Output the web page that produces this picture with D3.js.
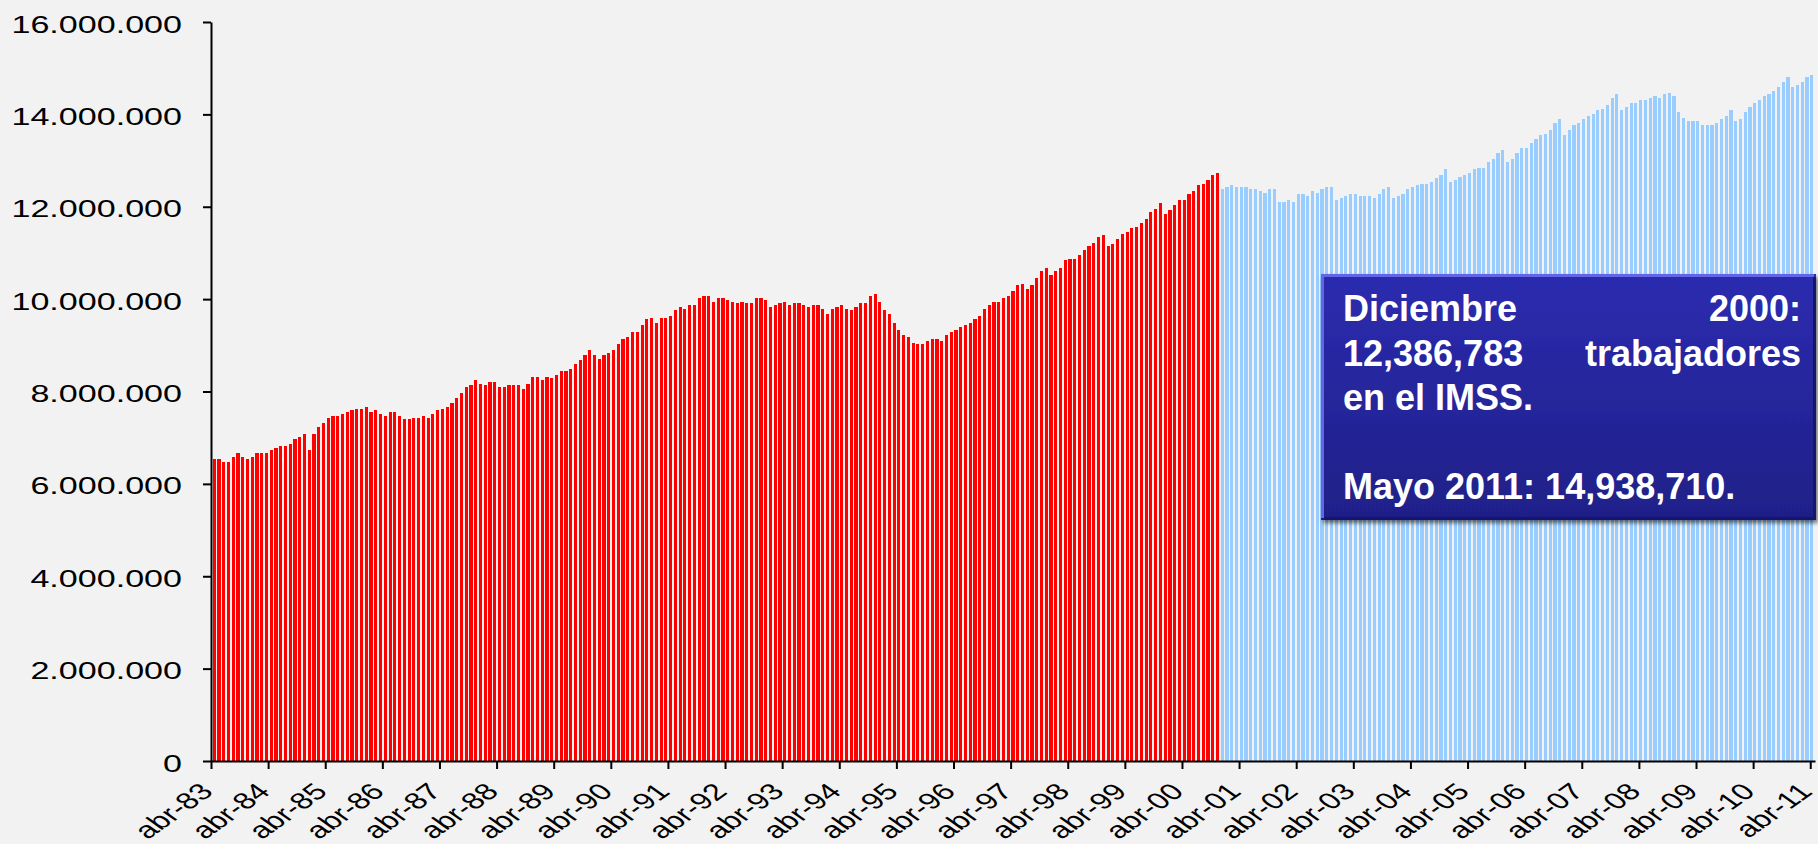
<!DOCTYPE html>
<html>
<head>
<meta charset="utf-8">
<script src="https://cdn.jsdelivr.net/npm/d3@7"></script>
<style>
    html, body { margin: 0; padding: 0; background: #f2f2f2; }
    svg { display: block; }
    text { font-family: "Liberation Sans", Arial, sans-serif; }
</style>
</head>
<body>
<svg id="chart" width="1818" height="844"></svg>
<script>
// Trabajadores asegurados en el IMSS, millones, mensual
// abr-83 .. nov-00
const redValues = [
    6.54, 6.54, 6.47, 6.47, 6.58, 6.67, 6.58, 6.54, 6.58, 6.67, 6.67, 6.67,
    6.73, 6.78, 6.82, 6.82, 6.86, 6.97, 7.01, 7.08, 6.73, 7.08, 7.23, 7.32,
    7.43, 7.47, 7.47, 7.51, 7.56, 7.60, 7.62, 7.62, 7.66, 7.56, 7.60, 7.51,
    7.47, 7.56, 7.56, 7.47, 7.40, 7.40, 7.43, 7.43, 7.47, 7.43, 7.51, 7.60,
    7.62, 7.66, 7.75, 7.86, 7.97, 8.10, 8.14, 8.25, 8.16, 8.14, 8.21, 8.21,
    8.10, 8.10, 8.14, 8.14, 8.14, 8.05, 8.16, 8.31, 8.31, 8.25, 8.31, 8.29,
    8.36, 8.44, 8.44, 8.49, 8.60, 8.68, 8.79, 8.90, 8.79, 8.70, 8.79, 8.83,
    8.90, 9.03, 9.14, 9.18, 9.29, 9.29, 9.44, 9.57, 9.59, 9.48, 9.59, 9.59,
    9.63, 9.76, 9.83, 9.79, 9.87, 9.87, 10.02, 10.07, 10.07, 9.94, 10.02, 10.02,
    9.98, 9.94, 9.92, 9.94, 9.92, 9.92, 10.02, 10.02, 9.98, 9.83, 9.87, 9.92,
    9.94, 9.87, 9.92, 9.92, 9.87, 9.83, 9.87, 9.87, 9.79, 9.68, 9.79, 9.83,
    9.87, 9.79, 9.76, 9.83, 9.92, 9.92, 10.07, 10.11, 9.94, 9.76, 9.68, 9.48,
    9.33, 9.22, 9.18, 9.05, 9.03, 9.03, 9.09, 9.14, 9.14, 9.09, 9.22, 9.29,
    9.33, 9.40, 9.44, 9.48, 9.57, 9.63, 9.79, 9.87, 9.94, 9.94, 10.02, 10.07,
    10.18, 10.31, 10.33, 10.22, 10.31, 10.46, 10.61, 10.67, 10.52, 10.61, 10.67, 10.85,
    10.87, 10.87, 10.96, 11.06, 11.15, 11.21, 11.34, 11.39, 11.15, 11.19, 11.30, 11.41,
    11.45, 11.54, 11.56, 11.65, 11.73, 11.89, 11.95, 12.08, 11.84, 11.93, 12.04, 12.15,
    12.15, 12.28, 12.34, 12.47, 12.49, 12.58, 12.69, 12.73
];
// dic-00 .. abr-11
const blueValues = [
    12.39, 12.43, 12.47, 12.43, 12.43, 12.43, 12.38, 12.38, 12.34, 12.30, 12.38, 12.38,
    12.10, 12.10, 12.15, 12.10, 12.28, 12.28, 12.23, 12.34, 12.30, 12.38, 12.43, 12.43,
    12.15, 12.19, 12.23, 12.28, 12.28, 12.23, 12.23, 12.23, 12.19, 12.28, 12.38, 12.43,
    12.19, 12.23, 12.28, 12.38, 12.43, 12.47, 12.49, 12.49, 12.53, 12.62, 12.69, 12.82,
    12.53, 12.58, 12.64, 12.69, 12.73, 12.82, 12.84, 12.84, 12.97, 13.03, 13.16, 13.23,
    12.97, 13.03, 13.16, 13.27, 13.27, 13.38, 13.47, 13.55, 13.57, 13.66, 13.81, 13.90,
    13.55, 13.66, 13.77, 13.81, 13.90, 13.96, 14.01, 14.09, 14.12, 14.20, 14.35, 14.44,
    14.09, 14.16, 14.25, 14.25, 14.31, 14.31, 14.35, 14.40, 14.35, 14.44, 14.46, 14.40,
    14.05, 13.92, 13.86, 13.86, 13.86, 13.77, 13.77, 13.77, 13.81, 13.90, 13.96, 14.09,
    13.86, 13.90, 14.05, 14.16, 14.25, 14.31, 14.40, 14.44, 14.51, 14.59, 14.70, 14.81,
    14.59, 14.64, 14.70, 14.81, 14.85
];

const monthNames = ["ene", "feb", "mar", "abr", "may", "jun", "jul", "ago", "sep", "oct", "nov", "dic"];
const tickLabels = ["abr-83", "abr-84", "abr-85", "abr-86", "abr-87", "abr-88", "abr-89", "abr-90",
    "abr-91", "abr-92", "abr-93", "abr-94", "abr-95", "abr-96", "abr-97", "abr-98", "abr-99", "abr-00",
    "abr-01", "abr-02", "abr-03", "abr-04", "abr-05", "abr-06", "abr-07", "abr-08", "abr-09", "abr-10", "abr-11"];
const yTicks = [0, 2000000, 4000000, 6000000, 8000000, 10000000, 12000000, 14000000, 16000000];

const noteRows = [
    {left: "Diciembre", right: "2000:"},
    {left: "12,386,783", right: "trabajadores"},
    {left: "en el IMSS.", right: ""},
    {left: "", right: ""},
    {left: "Mayo 2011: 14,938,710.", right: ""}
];

const MARGIN = {top: 22, left: 211, right: 1815, bottom: 761};
const STRETCH = 1.42;   // the original chart is stretched sideways

// month categories from abr-83 on
const nBars = redValues.length + blueValues.length;
const months = d3.range(nBars).map(i => {
    let m = (3 + i) % 12;
    let yr = (83 + Math.floor((3 + i) / 12)) % 100;
    return monthNames[m] + "-" + String(yr).padStart(2, "0");
});

const barData = redValues.concat(blueValues).map((v, i) => ({
    month: months[i],
    value: v * 1e6,
    red: i < redValues.length
}));

const svg = d3.select("#chart");

const xBand = d3.scaleBand()
    .domain(months)
    .range([MARGIN.left, MARGIN.right])
    .paddingInner(0.33)
    .paddingOuter(0.33);

const xIdx = d3.scaleLinear()
    .domain([0, nBars])
    .range([MARGIN.left, MARGIN.right]);

const yScale = d3.scaleLinear()
    .domain([0, 16000000])
    .range([MARGIN.bottom, MARGIN.top]);

// bars
svg.append("g")
    .selectAll("rect")
    .data(barData)
    .join("rect")
    .attr("x", d => xBand(d.month))
    .attr("width", xBand.bandwidth())
    .attr("y", d => yScale(d.value))
    .attr("height", d => yScale(0) - yScale(d.value))
    .attr("fill", d => d.red ? "#ff0000" : "#99ccff")
    .attr("shape-rendering", "crispEdges");

// y axis
const esMX = d3.formatLocale({decimal: ",", thousands: ".", grouping: [3], currency: ["", ""]});
let yAxis = d3.axisLeft(yScale)
    .tickValues(yTicks)
    .tickFormat(esMX.format(",d"))
    .tickSize(8)
    .tickSizeOuter(0);
let yAxisG = svg.append("g")
    .attr("transform", `translate(${MARGIN.left},0)`)
    .call(yAxis);
yAxisG.selectAll("text")
    .attr("x", null).attr("dy", null)
    .attr("transform", `translate(-29,10) scale(${STRETCH},1)`)
    .attr("text-anchor", "end")
    .attr("font-size", 24)
    .attr("fill", "#000");

// x axis
const tickIdx = tickLabels.map(l => months.indexOf(l));
let xAxis = d3.axisBottom(xIdx)
    .tickValues(tickIdx)
    .tickFormat(i => months[i])
    .tickSize(8)
    .tickSizeOuter(0);
let xAxisG = svg.append("g")
    .attr("transform", `translate(0,${MARGIN.bottom})`)
    .call(xAxis);
xAxisG.selectAll("text")
    .attr("y", null).attr("dy", null)
    .attr("transform", `translate(3,32) scale(${STRETCH},1) rotate(-45)`)
    .attr("text-anchor", "end")
    .attr("font-size", 23)
    .attr("fill", "#000");

svg.selectAll(".domain, .tick line")
    .attr("stroke", "#000")
    .attr("stroke-width", 2);

// note box
const defs = svg.append("defs");
let grad = defs.append("linearGradient").attr("id", "boxFill")
    .attr("x1", 0).attr("y1", 0).attr("x2", 0).attr("y2", 1);
grad.append("stop").attr("offset", "0%").attr("stop-color", "#2c2cb0");
grad.append("stop").attr("offset", "100%").attr("stop-color", "#1f1f88");
defs.append("filter").attr("id", "boxShadow")
    .attr("x", "-5%").attr("y", "-5%").attr("width", "115%").attr("height", "120%")
    .append("feDropShadow")
    .attr("dx", 2).attr("dy", 3).attr("stdDeviation", 2)
    .attr("flood-color", "#000").attr("flood-opacity", 0.55);

const box = {x: 1321, y: 274, w: 495, h: 246};
let note = svg.append("g");
note.append("rect")
    .attr("x", box.x).attr("y", box.y)
    .attr("width", box.w).attr("height", box.h)
    .attr("fill", "url(#boxFill)")
    .attr("filter", "url(#boxShadow)");
// bevel edges
note.append("path")
    .attr("d", `M${box.x + 1.5},${box.y + box.h - 2} V${box.y + 1.5} H${box.x + box.w - 2}`)
    .attr("fill", "none")
    .attr("stroke", "#6464e6")
    .attr("stroke-width", 3);
note.append("path")
    .attr("d", `M${box.x + 3},${box.y + box.h - 1.5} H${box.x + box.w - 1.5} V${box.y + 3}`)
    .attr("fill", "none")
    .attr("stroke", "#15156a")
    .attr("stroke-width", 3);

note.selectAll("text.left")
    .data(noteRows)
    .join("text")
    .attr("class", "left")
    .attr("x", 1343)
    .attr("y", (d, i) => 321 + i * 44.5)
    .attr("font-size", 36)
    .attr("font-weight", "bold")
    .attr("fill", "#fff")
    .text(d => d.left);

note.selectAll("text.right")
    .data(noteRows)
    .join("text")
    .attr("class", "right")
    .attr("x", 1801)
    .attr("y", (d, i) => 321 + i * 44.5)
    .attr("text-anchor", "end")
    .attr("font-size", 36)
    .attr("font-weight", "bold")
    .attr("fill", "#fff")
    .text(d => d.right);
</script>
</body>
</html>
